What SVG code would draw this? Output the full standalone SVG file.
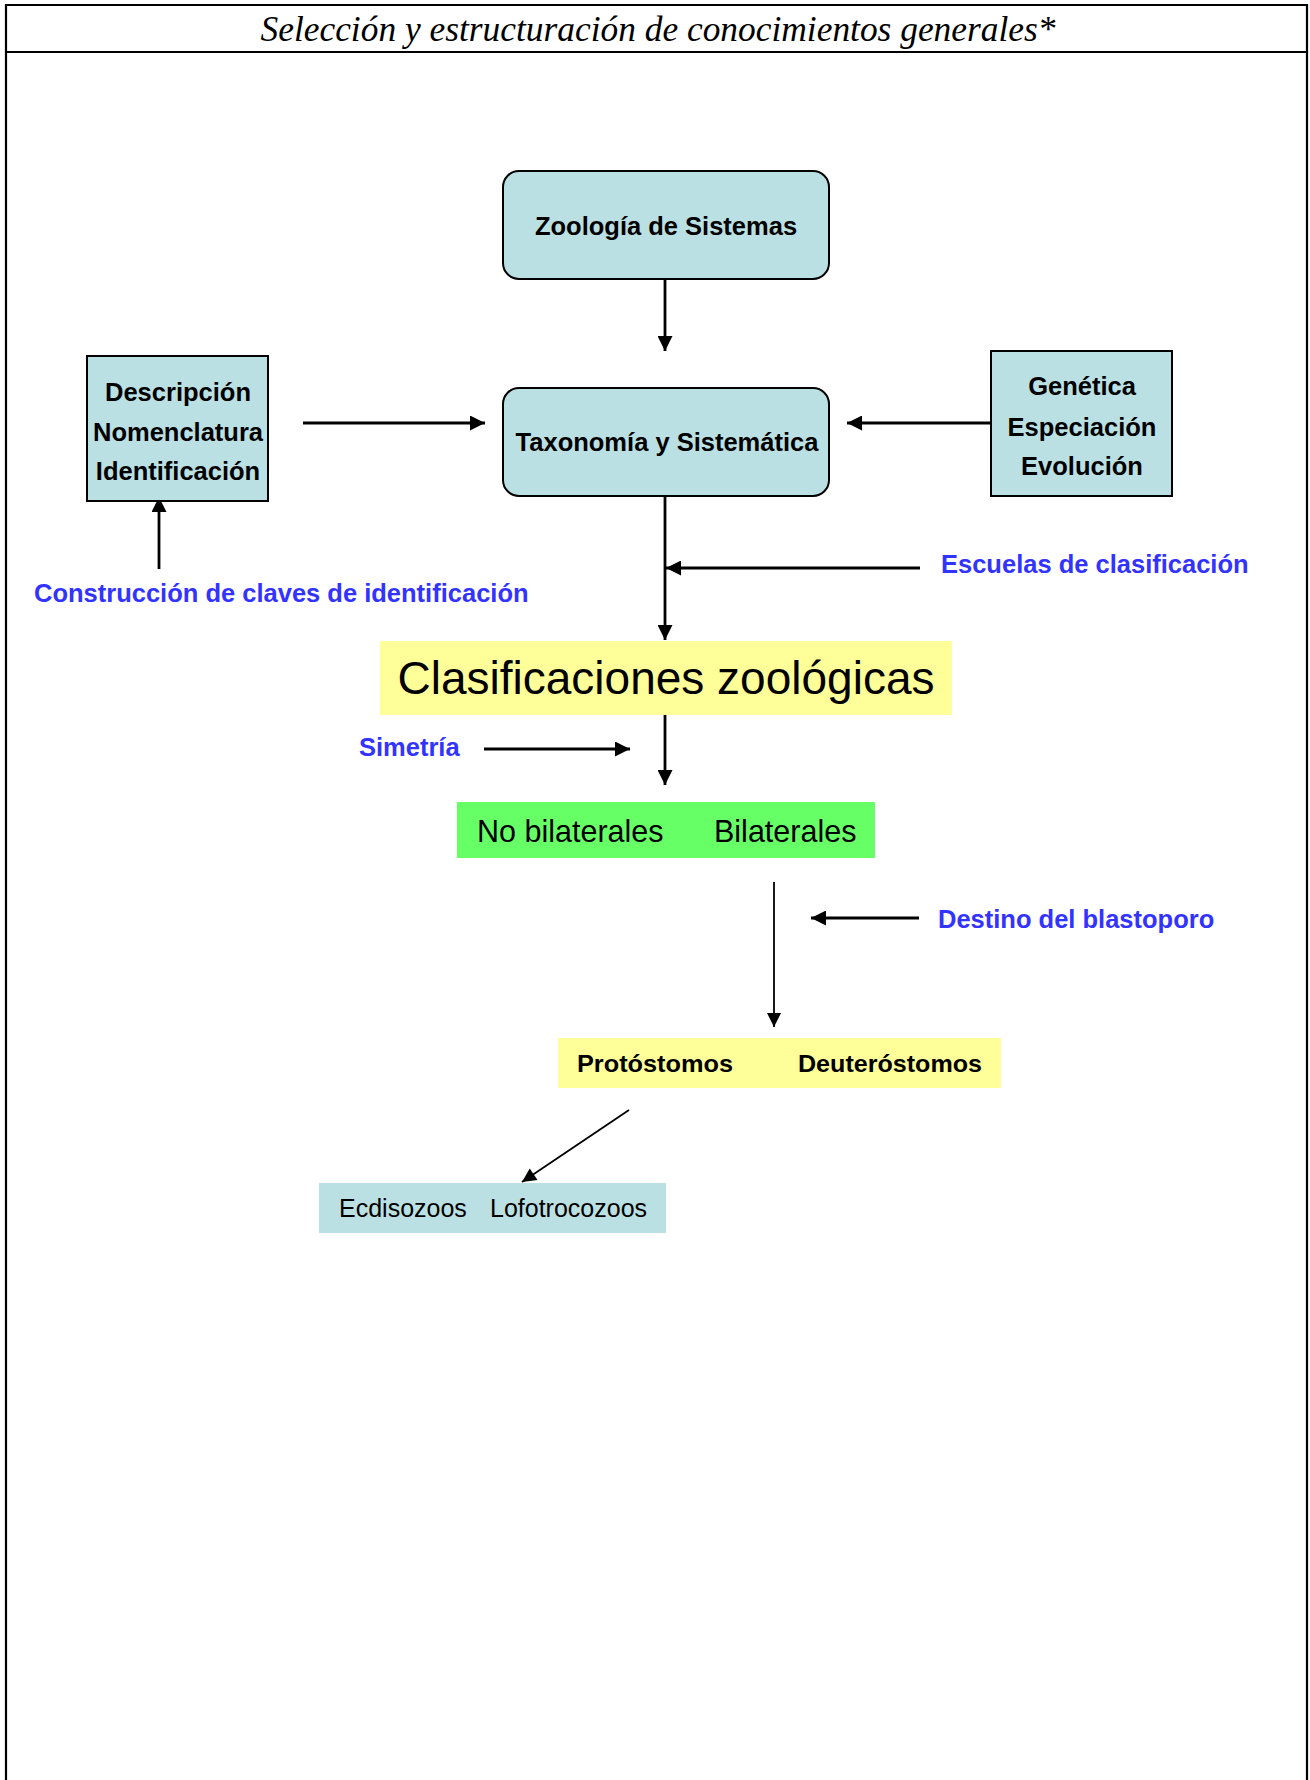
<svg xmlns="http://www.w3.org/2000/svg" width="1310" height="1780" viewBox="0 0 1310 1780">
<style>
.frame{fill:none;stroke:#000;stroke-width:2.2}
.box{fill:#BBE0E3;stroke:#000;stroke-width:2}
.lbl{font-family:"Liberation Sans",Arial,sans-serif;font-weight:bold;font-size:25.5px;fill:#000;text-anchor:middle}
.blue{font-family:"Liberation Sans",Arial,sans-serif;font-weight:bold;font-size:25.5px;fill:#3333FF}
.reg{font-family:"Liberation Sans",Arial,sans-serif;font-size:25px;fill:#000}
.thick{fill:none;stroke:#000;stroke-width:2.8}
.thin{fill:none;stroke:#000;stroke-width:1.8}
</style>
<defs>
<marker id="ah" viewBox="0 0 10 10" refX="10" refY="5" markerUnits="userSpaceOnUse" markerWidth="20" markerHeight="15" orient="auto">
<path d="M0,0 L10,5 L0,10 z" fill="#000"/>
</marker>
<marker id="ahs" viewBox="0 0 10 10" refX="10" refY="5" markerUnits="userSpaceOnUse" markerWidth="19" markerHeight="14" orient="auto">
<path d="M0,0 L10,5 L0,10 z" fill="#000"/>
</marker>
</defs>
<rect width="1310" height="1780" fill="#fff"/>
<g id="frame">
<path class="frame" d="M6,1780 V5 H1307 V1780"/>
<line class="frame" x1="6" y1="52" x2="1307" y2="52"/>
<text x="658" y="41" font-family="'Liberation Serif','Times New Roman',serif" font-style="italic" font-size="35" text-anchor="middle" textLength="795" lengthAdjust="spacingAndGlyphs">Selección y estructuración de conocimientos generales*</text>
</g>
<g id="connectors">
<line class="thick" x1="665" y1="279" x2="665" y2="351" marker-end="url(#ah)"/>
<line class="thick" x1="303" y1="423" x2="485" y2="423" marker-end="url(#ah)"/>
<line class="thick" x1="991" y1="423" x2="847" y2="423" marker-end="url(#ah)"/>
<line class="thick" x1="159" y1="569" x2="159" y2="497" marker-end="url(#ah)"/>
<line class="thick" x1="665" y1="496" x2="665" y2="640" marker-end="url(#ah)"/>
<line class="thick" x1="920" y1="568" x2="666" y2="568" marker-end="url(#ah)"/>
<line class="thick" x1="665" y1="714" x2="665" y2="785" marker-end="url(#ah)"/>
<line class="thick" x1="484" y1="749" x2="630" y2="749" marker-end="url(#ah)"/>
<line class="thin" x1="774" y1="882" x2="774" y2="1027" marker-end="url(#ahs)"/>
<line class="thick" x1="919" y1="918" x2="811" y2="918" marker-end="url(#ah)"/>
<line class="thin" x1="629" y1="1110" x2="522" y2="1182" marker-end="url(#ahs)"/>
</g>
<g id="zoologia">
<rect class="box" x="503" y="171" width="326" height="108" rx="16" ry="16"/>
<text class="lbl" x="666" y="235">Zoología de Sistemas</text>
</g>
<g id="taxonomia">
<rect class="box" x="503" y="388" width="326" height="108" rx="16" ry="16"/>
<text class="lbl" x="667" y="451">Taxonomía y Sistemática</text>
</g>
<g id="descripcion">
<rect class="box" x="87" y="356" width="181" height="145"/>
<text class="lbl" x="178" y="401">Descripción</text>
<text class="lbl" x="178" y="441">Nomenclatura</text>
<text class="lbl" x="178" y="480">Identificación</text>
</g>
<g id="genetica">
<rect class="box" x="991" y="351" width="181" height="145"/>
<text class="lbl" x="1082" y="395">Genética</text>
<text class="lbl" x="1082" y="436">Especiación</text>
<text class="lbl" x="1082" y="475">Evolución</text>
</g>
<g id="construccion">
<text class="blue" x="34" y="602">Construcción de claves de identificación</text>
</g>
<g id="escuelas">
<text class="blue" x="941" y="573">Escuelas de clasificación</text>
</g>
<g id="clasificaciones">
<rect x="380" y="641" width="572" height="74" fill="#FFFF99"/>
<text x="666" y="694" font-family="'Liberation Sans',Arial,sans-serif" font-size="46" text-anchor="middle">Clasificaciones zoológicas</text>
</g>
<g id="simetria">
<text class="blue" x="359" y="756">Simetría</text>
</g>
<g id="bilaterales">
<rect x="457" y="802" width="418" height="56" fill="#66FF66"/>
<text x="477" y="842" font-family="'Liberation Sans',Arial,sans-serif" font-size="30.5">No bilaterales</text>
<text x="714" y="842" font-family="'Liberation Sans',Arial,sans-serif" font-size="30.5">Bilaterales</text>
</g>
<g id="destino">
<text class="blue" x="938" y="928">Destino del blastoporo</text>
</g>
<g id="protostomos">
<rect x="558" y="1038" width="443" height="50" fill="#FFFF99"/>
<text x="577" y="1072" font-family="'Liberation Sans',Arial,sans-serif" font-weight="bold" font-size="24" textLength="156" lengthAdjust="spacingAndGlyphs">Protóstomos</text>
<text x="798" y="1072" font-family="'Liberation Sans',Arial,sans-serif" font-weight="bold" font-size="24" textLength="184" lengthAdjust="spacingAndGlyphs">Deuteróstomos</text>
</g>
<g id="ecdisozoos">
<rect x="319" y="1183" width="347" height="50" fill="#BBE0E3"/>
<text class="reg" x="339" y="1217">Ecdisozoos</text>
<text class="reg" x="490" y="1217">Lofotrocozoos</text>
</g>
</svg>
